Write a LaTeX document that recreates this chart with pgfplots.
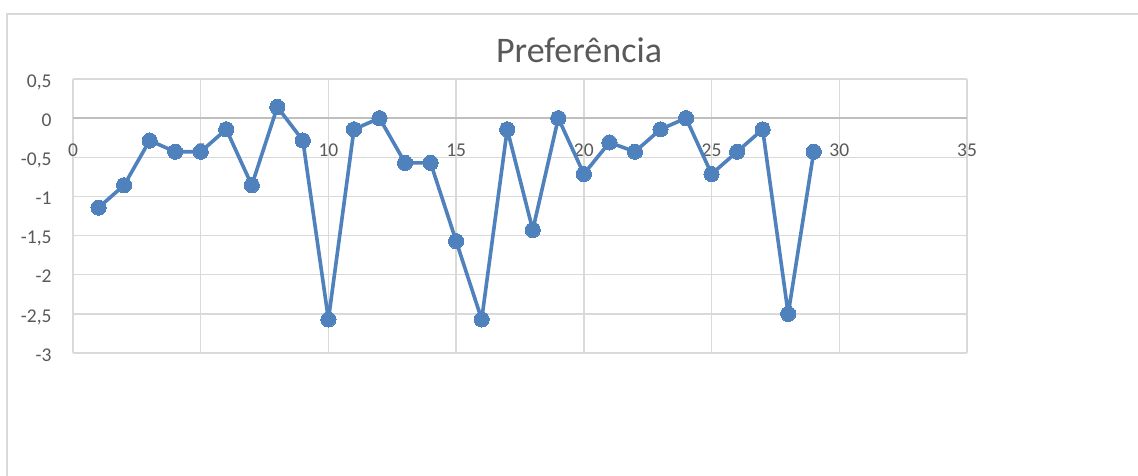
\documentclass[border=0pt]{standalone}
\usepackage{pgfplots}
\pgfplotsset{compat=1.18}
\usepackage{fontspec}
\setmainfont{Carlito}
\definecolor{serie}{HTML}{4F81BD}
\definecolor{grade}{HTML}{D9D9D9}
\definecolor{eixo}{HTML}{BFBFBF}
\definecolor{texto}{HTML}{595959}

\begin{document}
\begin{tikzpicture}
\useasboundingbox (0,0) rectangle (1138pt,476pt);
\fill[white] (0,0) rectangle (1138pt,476pt);
% moldura do gráfico
\draw[grade, line width=1.5pt] (7pt,-20pt) -- (7pt,462pt) -- (1160pt,462pt);
\begin{axis}[
  at={(73pt,123pt)}, anchor=south west,
  scale only axis, width=894pt, height=274pt,
  xmin=0, xmax=35, ymin=-3, ymax=0.5,
  xtick={0,5,...,35},
  xticklabels={0,5,10,15,20,25,30,35},
  ytick={-3,-2.5,-2,-1.5,-1,-0.5,0,0.5},
  yticklabels={{-3},{-2,5},{-2},{-1,5},{-1},{-0,5},{0},{0,5}},
  extra y ticks={0}, extra y tick labels={},
  extra y tick style={grid style={eixo, line width=1.5pt}},
  grid=major,
  grid style={grade, line width=1.3pt},
  axis line style={draw=none},
  major tick length=0pt,
  tick style={draw=none},
  xticklabel style={font=\fontsize{19.5}{22}\selectfont, text=texto, inner sep=0pt, anchor=base, yshift=196.3pt},
  yticklabel style={font=\fontsize{19.5}{22}\selectfont, text=texto, inner sep=0pt, anchor=base east, xshift=-21.3pt, yshift=-8.2pt},
  title={Preferência},
  title style={font=\fontsize{36}{40}\selectfont, text=texto, inner sep=0pt, at={(0.566,1)}, anchor=base, yshift=10pt},
  clip=false,
]
\addplot[serie, line width=3.6pt, line join=round, line cap=round,
  mark=*, mark size=7.6pt, mark options={fill=serie, draw=serie, line width=0pt}]
coordinates {
(1,-1.143) (2,-0.857) (3,-0.286) (4,-0.429) (5,-0.429) (6,-0.143)
(7,-0.857) (8,0.143) (9,-0.286) (10,-2.571) (11,-0.143) (12,0)
(13,-0.571) (14,-0.571) (15,-1.571) (16,-2.571) (17,-0.143) (18,-1.429)
(19,0) (20,-0.714) (21,-0.31) (22,-0.429) (23,-0.143) (24,0)
(25,-0.714) (26,-0.429) (27,-0.143) (28,-2.5) (29,-0.429)
};
\end{axis}
\end{tikzpicture}
\end{document}
